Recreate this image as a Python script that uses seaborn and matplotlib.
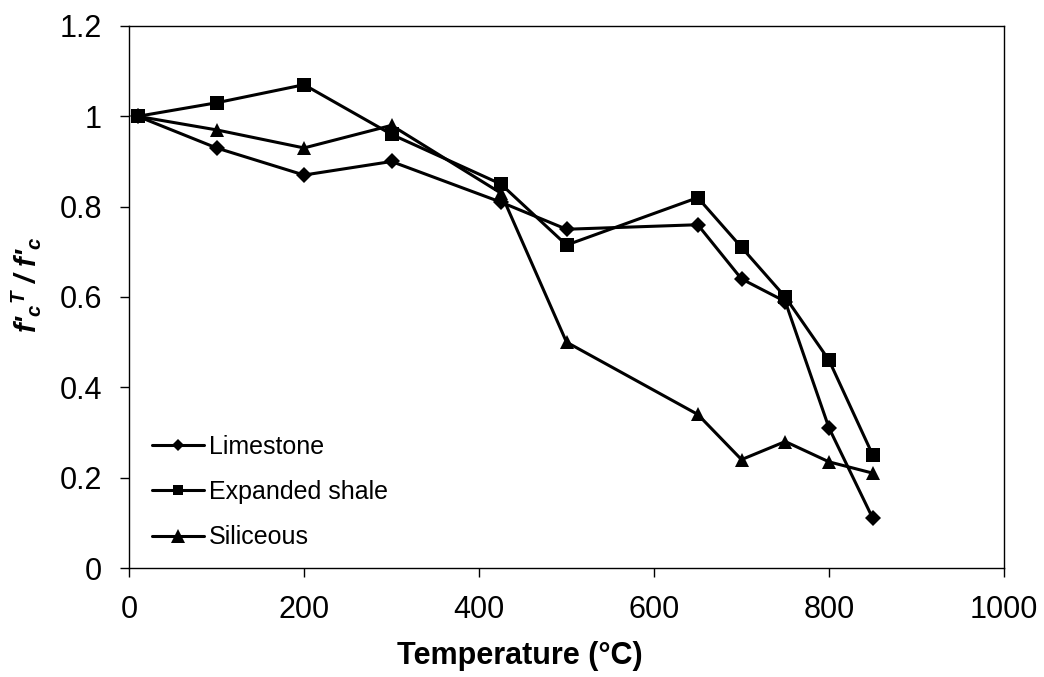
import pandas as pd
import seaborn as sns
import matplotlib.pyplot as plt

temps = [10, 100, 200, 300, 425, 500, 650, 700, 750, 800, 850]
limestone = [1.0, 0.93, 0.87, 0.90, 0.81, 0.75, 0.76, 0.64, 0.59, 0.31, 0.11]
expanded_shale = [1.0, 1.03, 1.07, 0.96, 0.85, 0.715, 0.82, 0.71, 0.60, 0.46, 0.25]
siliceous = [1.0, 0.97, 0.93, 0.98, 0.83, 0.50, 0.34, 0.24, 0.28, 0.235, 0.21]
names = ["Limestone", "Expanded shale", "Siliceous"]

data = pd.DataFrame({
    "temp": temps * 3,
    "ratio": limestone + expanded_shale + siliceous,
    "type": [n for n in names for _ in temps],
})

sns.set_style("ticks")
plt.rcParams['font.family'] = ['Liberation Sans', 'DejaVu Sans']
plt.rcParams['text.color'] = 'black'
plt.rcParams['axes.labelcolor'] = 'black'
plt.rcParams['xtick.color'] = 'black'
plt.rcParams['ytick.color'] = 'black'
plt.rcParams['mathtext.fontset'] = 'custom'
plt.rcParams['mathtext.rm'] = 'Liberation Sans:bold:italic'
plt.rcParams['mathtext.it'] = 'Liberation Sans:bold:italic'
plt.rcParams['mathtext.bf'] = 'Liberation Sans:bold:italic'

f = plt.figure(figsize=(10.44, 6.77), dpi=100)
ax = f.add_axes([0.1236, 0.1610, 0.8381, 0.8006])

plot = sns.lineplot(data, x="temp", y="ratio", hue="type", style="type",
                    palette=["black"] * 3, markers=["D", "s", "^"], dashes=False,
                    linewidth=2.2, markeredgewidth=0, ax=ax)
for line, ms in zip(plot.lines[:3], [8.5, 9.5, 10.5]):
    line.set_markersize(ms)

ax.set_xlim(0, 1000)
ax.set_ylim(0, 1.2)
ax.set_xticks(range(0, 1001, 200))
ax.set_yticks([0, 0.2, 0.4, 0.6, 0.8, 1.0, 1.2])
ax.set_yticklabels(["0", "0.2", "0.4", "0.6", "0.8", "1", "1.2"])
ax.set_xlabel("Temperature (°C)", fontsize=22, fontweight="bold", va="top")
ax.set_ylabel("f'$_c$$^T$ / f'$_c$", fontsize=21, fontweight="bold",
              fontstyle="italic", va="bottom")
ax.xaxis.set_label_coords(0.447, -0.135)
ax.yaxis.set_label_coords(-0.098, 0.522)
for s in ax.spines.values():
    s.set_visible(True)
    s.set_color("black")
    s.set_linewidth(1.0)
ax.tick_params(labelsize=22, direction="out", length=6.5, width=1.0,
               color="black", labelcolor="black", pad=13)

leg = ax.legend(title=None, frameon=False, loc="center left", fontsize=18,
                handlelength=2.1, handletextpad=0.2, labelspacing=0.85,
                borderpad=0, borderaxespad=0, bbox_to_anchor=(0.026, 0.14))
for h, ms in zip(leg.legend_handles, [6.0, 7.5, 9.5]):
    h.set_markersize(ms)

f.savefig("out.png", dpi=100)
